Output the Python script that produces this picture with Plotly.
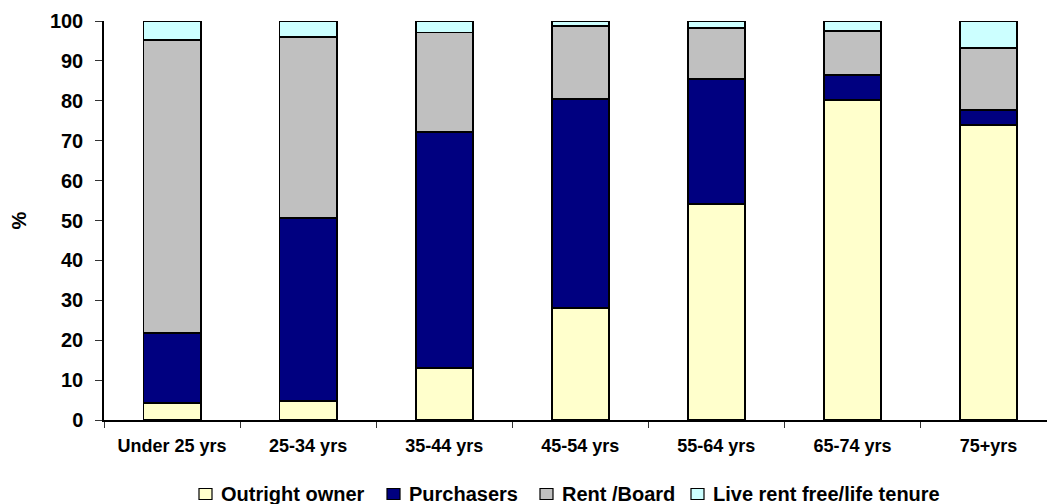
import plotly.graph_objects as go

age_groups = ["Under 25 yrs", "25-34 yrs", "35-44 yrs", "45-54 yrs",
              "55-64 yrs", "65-74 yrs", "75+yrs"]

outright_owner = [4.3, 4.8, 13.1, 28.0, 54.2, 80.3, 73.9]
purchasers = [17.6, 45.8, 59.0, 52.5, 31.3, 6.1, 3.8]
rent_board = [73.3, 45.3, 25.0, 18.2, 12.7, 11.1, 15.5]
rent_free = [4.8, 4.1, 2.9, 1.3, 1.8, 2.5, 6.8]

y_ticks = [0, 10, 20, 30, 40, 50, 60, 70, 80, 90, 100]

series_names = ["Outright owner", "Purchasers", "Rent /Board",
                "Live rent free/life tenure"]
series_values = [outright_owner, purchasers, rent_board, rent_free]
series_colors = ["#FFFFCC", "#000080", "#C0C0C0", "#CCFFFF"]

FONT = "Arial, 'Liberation Sans', sans-serif"

# Canvas geometry (pixels)
W, H = 1047, 504
M_L, M_R, M_T, M_B = 104, 0, 21, 84
PLOT_W = W - M_L - M_R
PLOT_H = H - M_T - M_B


def px_to_paper_x(px):
    return (px - M_L) / PLOT_W


def px_to_paper_y(py):
    return (H - M_B - py) / PLOT_H


fig = go.Figure()
for name, vals, color in zip(series_names, series_values, series_colors):
    fig.add_trace(go.Bar(
        x=age_groups, y=vals, name=name,
        marker=dict(color=color, line=dict(color="black", width=1.8)),
        showlegend=False,
    ))

# Legend row below the axis: a boxed swatch followed by the series name
legend_left_px = [199, 387, 540, 691]
legend_center_py = 494
shapes, annotations = [], []
for left, name, color in zip(legend_left_px, series_names, series_colors):
    shapes.append(dict(
        type="rect", xref="paper", yref="paper",
        x0=px_to_paper_x(left), x1=px_to_paper_x(left + 13),
        y0=px_to_paper_y(legend_center_py + 5.5), y1=px_to_paper_y(legend_center_py - 5.5),
        fillcolor=color, line=dict(color="black", width=1.2),
    ))
    annotations.append(dict(
        text=name, xref="paper", yref="paper",
        x=px_to_paper_x(left + 20), y=px_to_paper_y(legend_center_py),
        xanchor="left", yanchor="middle", showarrow=False,
        font=dict(family=FONT, size=20, color="black", weight="bold"),
    ))

fig.update_layout(
    barmode="stack",
    bargap=0.58,
    width=W, height=H,
    margin=dict(l=M_L, r=M_R, t=M_T, b=M_B),
    plot_bgcolor="white", paper_bgcolor="white",
    font=dict(family=FONT, color="black"),
    showlegend=False,
    shapes=shapes,
    annotations=annotations,
    xaxis=dict(
        type="category", range=[-0.5, 6.43],
        tickson="boundaries", ticks="outside", ticklen=6, tickcolor="#333",
        showline=True, linecolor="black", linewidth=1.5,
        tickfont=dict(family=FONT, size=18, weight="bold"),
        tickangle=0, ticklabelstandoff=9,
        showgrid=False,
    ),
    yaxis=dict(
        range=[0, 100], tickvals=y_ticks,
        ticks="outside", ticklen=7, tickcolor="#333",
        showline=True, linecolor="black", linewidth=1.5,
        tickfont=dict(family=FONT, size=20, weight="bold"),
        ticklabelstandoff=8,
        showgrid=False, zeroline=False,
        title=dict(text="%", font=dict(family=FONT, size=20, weight="bold"), standoff=18),
    ),
)

fig.write_html("out.html")
